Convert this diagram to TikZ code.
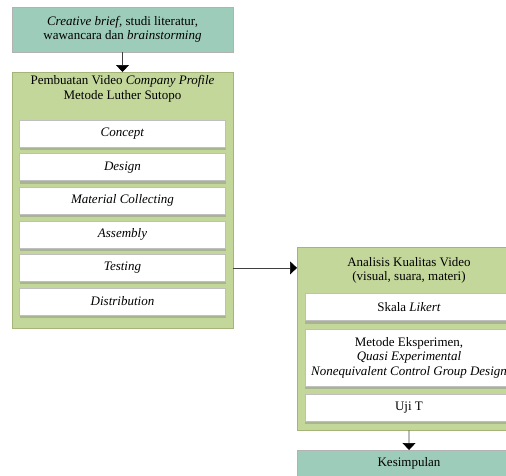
\documentclass[tikz,border=0pt]{standalone}
\usepackage{fontspec}
\setmainfont{Liberation Serif}
\usepackage{tikz}
\usetikzlibrary{positioning,arrows.meta,shadows}
\definecolor{tealbox}{RGB}{157,205,186}
\definecolor{olivebox}{RGB}{196,215,155}
\definecolor{olivedraw}{RGB}{165,180,120}

\begin{document}
\begin{tikzpicture}[x=1pt, y=-1pt, node distance=33.6pt, >={Triangle[length=7pt,width=13pt]},
    font=\fontsize{13}{14.5}\selectfont]
  \tikzstyle{headbox}=[rectangle, draw=gray!60, fill=tealbox, align=center, minimum width=221pt, inner sep=0pt]
  \tikzstyle{groupbox}=[rectangle, draw=olivedraw, fill=olivebox, minimum width=221pt, inner sep=0pt]
  \tikzstyle{stepbox}=[rectangle, draw=gray!50, fill=white, align=center, minimum width=206pt, minimum height=27pt, inner sep=0pt,
    drop shadow={shadow xshift=0pt, shadow yshift=-3pt, fill=gray!40!olivebox, opacity=1}]
  \tikzstyle{link}=[->, draw=gray!50!black, line width=0.7pt, arrows={-{Triangle[length=7pt,width=13pt,black]}}]
  \useasboundingbox (0,0) rectangle (506,475);
  \clip (0,0) rectangle (506,475);
  % left column
  \node[headbox, minimum height=45pt] (brief) at (122.5,29.5) {\textit{Creative brief,} studi literatur,\\wawancara dan \textit{brainstorming}};
  \node[groupbox, minimum height=256pt, anchor=north] (luther) at (122.5,72) {};
  \node[align=center] (luthertitle) at (122.5,89) {Pembuatan Video \textit{Company Profile}\\Metode Luther Sutopo};
  \node[stepbox] (concept) at (122.5,133.5) {\textit{Concept}};
  \node[stepbox, below of=concept] (design) {\textit{Design}};
  \node[stepbox, below of=design] (material) {\textit{Material Collecting}};
  \node[stepbox, below of=material] (assembly) {\textit{Assembly}};
  \node[stepbox, below of=assembly] (testing) {\textit{Testing}};
  \node[stepbox, below of=testing] (distribution) {\textit{Distribution}};
  % right column
  \node[groupbox, minimum width=224pt, minimum height=183pt, anchor=north west] (analisis) at (297,247) {};
  \node[align=center] (analisistitle) at (409,270.5) {Analisis Kualitas Video\\(visual, suara, materi)};
  \node[stepbox, minimum width=208pt] (likert) at (409,307) {Skala \textit{Likert}};
  \node[stepbox, minimum width=208pt, minimum height=57pt] (eksperimen) at (409,357.5) {Metode Eksperimen,\\\textit{Quasi Experimental}\\\textit{Nonequivalent Control Group Design}};
  \node[stepbox, minimum width=208pt] (ujit) at (409,407.5) {Uji T};
  \node[headbox, minimum width=224pt, minimum height=27pt, anchor=north] (kesimpulan) at (409,450) {Kesimpulan};
  % connectors
  \draw[link] (brief) -- (luther);
  \draw[link] (testing.east -| luther.east) -- (testing.east -| analisis.west);
  \draw[link] (analisis) -- (kesimpulan);
\end{tikzpicture}
\end{document}
